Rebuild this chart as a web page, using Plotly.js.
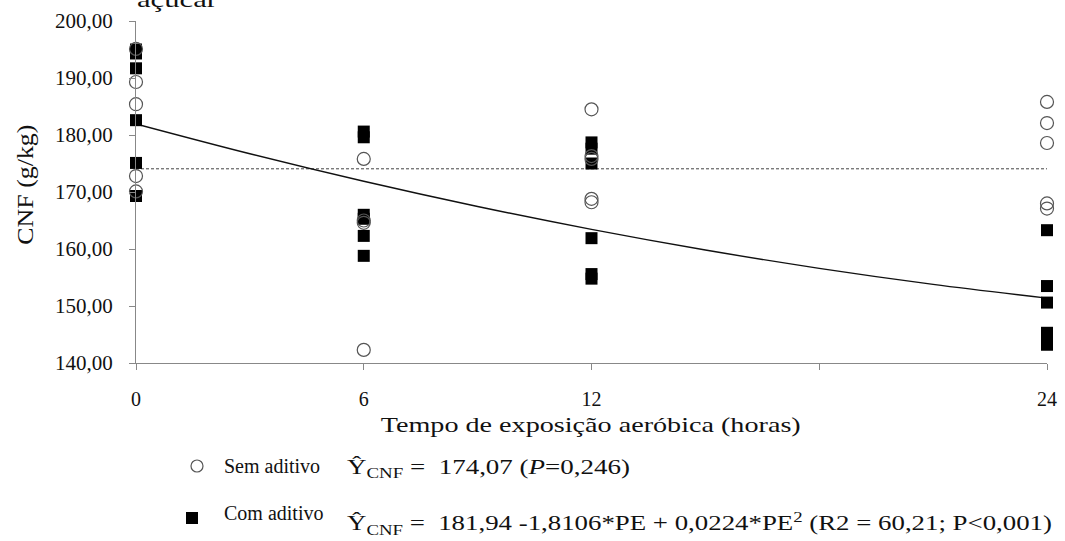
<!DOCTYPE html>
<html>
<head>
<meta charset="utf-8">
<script src="https://cdn.plot.ly/plotly-3.0.1.min.js"></script>
<style>body{margin:0;background:#fff}#chart{width:1065px;height:541px}</style>
</head>
<body>
<div id="chart"></div>
<script>
// Sem aditivo (open circles)
var semX = [0,0,0,0,0, 6,6,6,6, 12,12,12,12,12, 24,24,24,24,24];
var semY = [195.1,189.3,185.4,172.8,170.1, 175.8,165.0,164.6,142.3, 184.5,176.3,175.8,168.8,168.2, 185.8,182.1,178.6,168.0,167.1];
// Com aditivo (filled squares)
var comX = [0,0,0,0,0,0, 6,6,6,6,6,6, 12,12,12,12,12,12, 24,24,24,24,24,24];
var comY = [195.0,194.3,191.7,182.6,175.1,169.3, 180.6,179.6,166.0,165.3,162.3,158.8, 178.7,177.6,175.0,161.9,155.6,154.8, 163.3,153.5,150.6,145.3,144.0,143.2];
// mean line (Sem aditivo) and fitted curve (Com aditivo), values as shown
var meanX = [0,24];
var meanY = [174.07,174.07];
var fitX = [0,3,6,9,12,15,18,21,24];
var fitY = [181.94,176.71,171.88,167.46,163.44,159.82,156.61,153.80,151.39];
var xTickVals = [0,6,12,18,24];
var xTickText = ['0','6','12','','24'];
var yTickVals = [140,150,160,170,180,190,200];

var FONT = '"Liberation Serif", "Times New Roman", serif';

var traces = [
  {x: meanX, y: meanY, mode:'lines', line:{color:'#444', width:1, dash:'3px,2px'}, hoverinfo:'skip', cliponaxis:false},
  {x: fitX, y: fitY, mode:'lines', line:{color:'#111', width:1.4, shape:'spline'}, hoverinfo:'skip', cliponaxis:false},
  {x: comX, y: comY, mode:'markers', marker:{symbol:'square', size:12, color:'#000', line:{width:0}}, cliponaxis:false},
  {x: semX, y: semY, mode:'markers', marker:{symbol:'circle-open', size:13, color:'#555', line:{width:1.2, color:'#555'}}, cliponaxis:false}
];

function px(x){return (x-136)/911;}
function py(y){return (363-y)/342;}
function ann(text, x, y, xa, size, extra){
  var a = {text:text, xref:'paper', yref:'paper', x:px(x), y:py(y), xanchor:xa, yanchor:'middle', showarrow:false,
           font:{family:FONT, size:size, color:'#111'}};
  if (extra) for (var k in extra) a[k] = extra[k];
  return a;
}

var layout = {
  width:1065, height:541,
  margin:{l:136, r:18, t:21, b:178, autoexpand:false},
  paper_bgcolor:'#fff', plot_bgcolor:'#fff',
  showlegend:false,
  separators:',.',
  font:{family:FONT, color:'#111', size:20},
  xaxis:{range:[0,24], tickvals:xTickVals, ticktext:xTickText, showgrid:false, zeroline:false,
         showline:true, linecolor:'#888', linewidth:1, ticks:'outside', ticklen:6, tickcolor:'#888',
         ticklabelstandoff:12, tickfont:{family:FONT, size:20, color:'#111'}},
  yaxis:{range:[140,200], tickvals:yTickVals, tickformat:'.2f', showgrid:false, zeroline:false,
         showline:true, linecolor:'#888', linewidth:1, ticks:'outside', ticklen:6, tickcolor:'#888',
         ticklabelstandoff:12, tickfont:{family:FONT, size:21, color:'#111'}},
  annotations:[
    ann('Tempo de exposição aeróbica (horas)', 590, 425, 'center', 21),
    ann('CNF (g/kg)', 25, 185, 'center', 23, {textangle:-90}),
    ann('Sem aditivo', 222, 466, 'left', 20),
    ann('Ŷ<sub>CNF</sub> =  174,07 (<i>P</i>=0,246)', 345, 468, 'left', 20),
    ann('Com aditivo', 222, 513, 'left', 20),
    ann('Ŷ<sub>CNF</sub> =  181,94 -1,8106*PE + 0,0224*PE<sup>2</sup> (R2 = 60,21; P<0,001)', 345, 524, 'left', 20),
    {text:'açúcar', xref:'paper', yref:'paper', x:px(135), y:py(14), xanchor:'left', yanchor:'bottom', showarrow:false, font:{family:FONT,size:22,color:'#111'}}
  ],
  shapes:[
    {type:'circle', xref:'paper', yref:'paper', xsizemode:'pixel', ysizemode:'pixel', xanchor:px(197), yanchor:py(466), x0:-6, x1:6, y0:-6, y1:6, line:{color:'#555', width:1.2}},
    {type:'rect', xref:'paper', yref:'paper', xsizemode:'pixel', ysizemode:'pixel', xanchor:px(192), yanchor:py(518), x0:-6, x1:6, y0:-6, y1:6, line:{width:0}, fillcolor:'#000'}
  ]
};

// stretch some texts horizontally (the reference's texts are wider than their height implies)
var stretches = [
  {idx:0, len:420, align:'center'},
  {idx:1, len:120, align:'center'},
  {idx:3, len:283, align:'left'},
  {idx:5, len:705, align:'left'},
  {idx:6, len:80, align:'left'}
];

Plotly.newPlot('chart', traces, layout, {staticPlot:true, displayModeBar:false}).then(function(){
  stretches.forEach(function(s){
    var t = document.querySelector('.annotation[data-index="' + s.idx + '"] .annotation-text');
    if (!t) return;
    var b1 = t.getBBox();
    t.setAttribute('textLength', s.len);
    t.setAttribute('lengthAdjust', 'spacingAndGlyphs');
    var b2 = t.getBBox();
    var dx = s.align === 'left' ? (b1.x - b2.x) : ((b1.x + b1.width/2) - (b2.x + b2.width/2));
    var tr = t.getAttribute('transform') || '';
    t.setAttribute('transform', 'translate(' + dx + ',0) ' + tr);
  });
});
</script>
</body>
</html>
